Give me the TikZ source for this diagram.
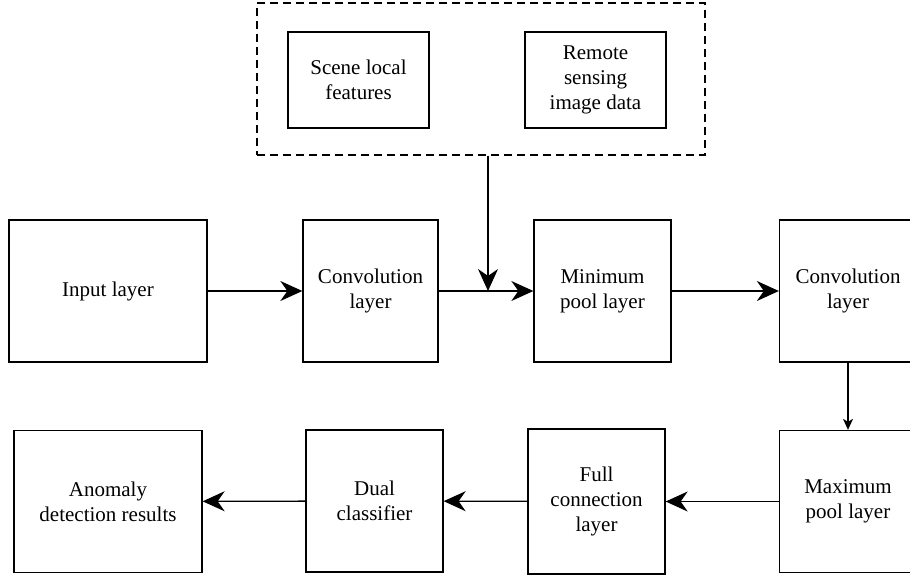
\documentclass[tikz,border=0pt]{standalone}
\usepackage{fontspec}
\setmainfont{Liberation Serif}
\usetikzlibrary{arrows.meta}

\begin{document}
\begin{tikzpicture}[x=0.5pt,y=-0.5pt,line width=0.65pt,
	every node/.style={font=\fontsize{10.5}{12.6}\selectfont,align=center},
	blk/.style={draw,inner sep=0pt,minimum width=68.5pt,minimum height=71pt},
	big/.style={-{Stealth[length=11pt,width=10pt,inset=3.5pt]}},
	small/.style={-{Stealth[length=5.5pt,width=5pt,inset=1.5pt]}}]
	\useasboundingbox (0,0) rectangle (910,578);
	% top group
	\node[draw,dash pattern=on 4pt off 2.5pt,minimum width=224pt,minimum height=76pt] (group) at (481,79) {};
	\node[blk,minimum width=70.5pt,minimum height=48pt] (scene) at (358.5,80) {Scene local\\features};
	\node[blk,minimum width=70.5pt,minimum height=48pt] (remote) at (595.5,80) {Remote\\sensing\\image data};
	% first row
	\node[blk,minimum width=99pt] (input) at (108,291) {Input layer};
	\node[blk,minimum width=67.5pt] (convA) at (370.5,291) {Convolution\\layer};
	\node[blk] (minpool) at (602.5,291) {Minimum\\pool layer};
	\node[blk] (convB) at (848,291) {Convolution\\layer};
	% second row
	\node[blk,minimum width=94pt] (result) at (108,501.5) {Anomaly\\detection results};
	\node[blk] (dual) at (374.5,501) {Dual\\classifier};
	\node[blk,minimum height=72.5pt] (full) at (596.5,501.5) {Full\\connection\\layer};
	\node[blk] (maxpool) at (848,501.5) {Maximum\\pool layer};
	\coordinate (join) at (488,291);
	% connectors
	\draw[big] (input) -- (convA);
	\draw[big] (convA) -- (minpool);
	\draw[big] (group.south -| join) -- (join);
	\draw[big] (minpool) -- (convB);
	\draw[small] (convB) -- (maxpool);
	\draw[big] (maxpool) -- (full);
	\draw[big] (full) -- (dual);
	\draw[big] (dual) -- (result);
\end{tikzpicture}
\end{document}
